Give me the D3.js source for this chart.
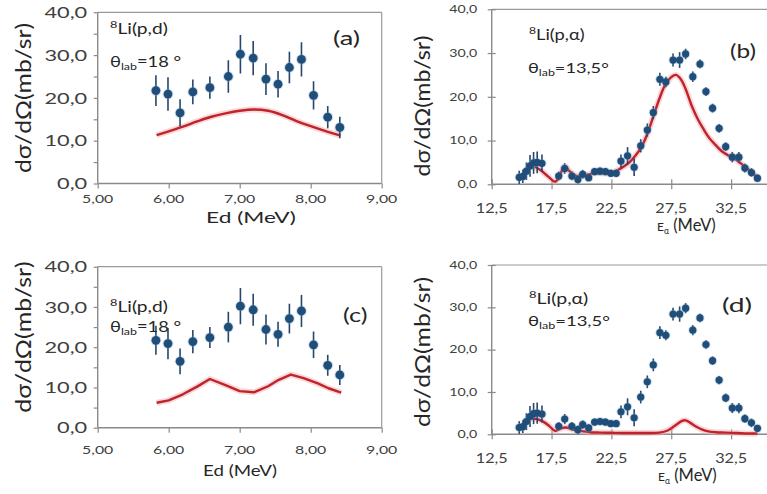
<!DOCTYPE html>
<html><head><meta charset="utf-8">
<script src="https://cdn.jsdelivr.net/npm/d3@7"></script>
<style>body{margin:0;background:#fff}svg{display:block}</style>
</head><body>
<svg id="c" width="767" height="494"></svg>
<script>
// ---- 8Li(p,d) experimental (panels a, c) ----
const edEnergy = [5.82,5.99,6.16,6.34,6.58,6.84,7.01,7.19,7.37,7.54,7.70,7.87,8.04,8.24,8.41];
const edSigma  = [21.7,20.9,16.5,21.4,22.4,25.0,30.2,29.3,24.4,23.2,27.1,29.0,20.6,15.5,13.1];
const edError  = [3.6,3.9,3.2,2.9,2.6,3.8,4.5,4.0,3.7,3.1,3.7,4.0,3.3,2.6,2.5];
// calculation, panel a
const calcAEnergy = [5.83,6.0,6.2,6.4,6.6,6.8,7.0,7.2,7.4,7.6,7.8,8.0,8.2,8.42];
const calcASigma  = [11.3,12.2,13.3,14.5,15.6,16.4,17.0,17.3,17.0,16.0,14.6,13.4,12.3,11.2];
// calculation, panel c
const calcCEnergy = [5.83,6.0,6.2,6.4,6.58,6.8,7.0,7.2,7.4,7.55,7.72,7.9,8.1,8.25,8.43];
const calcCSigma  = [6.2,6.8,8.3,10.2,12.1,10.6,9.1,8.8,10.3,11.9,13.2,12.3,11.0,9.8,8.7];
// ---- 8Li(p,alpha) experimental (panels b, d) ----
const eaEnergy = [14.8,15.1,15.4,15.7,16.0,16.3,16.7,
  18.1,18.6,19.2,19.7,20.1,20.6,21.1,21.55,22.0,22.45,22.9,
  23.3,23.85,24.4,24.95,25.5,26.0,26.55,27.05,27.65,28.2,28.7,29.3,29.9,30.4,30.95,31.5,32.05,32.6,33.15,33.65,34.2,34.7];
const eaSigma = [1.6,1.8,3.0,4.2,4.9,5.0,4.8,
  1.9,3.6,1.9,1.1,2.3,1.5,2.9,3.0,2.9,2.5,2.5,
  5.3,6.5,3.9,8.8,12.4,16.4,24.0,23.4,28.4,28.4,29.8,24.6,27.5,21.2,17.4,12.8,8.6,6.2,6.2,3.7,2.7,1.4];
const eaError = [1.5,1.5,2.0,2.5,2.5,2.5,2.0,
  1.0,1.2,1.0,1.0,1.0,0.8,0.8,0.8,0.8,0.8,0.8,
  1.5,2.0,2.0,1.5,1.5,1.5,1.5,1.2,1.5,1.8,1.2,1.2,1.0,1.0,1.0,1.0,1.0,1.2,1.2,1.0,1.0,0.8];
// calculation, panel b
const calcBEnergy = [16.1,16.6,17.2,17.8,18.2,18.6,19.0,19.5,20.0,20.5,21.0,21.5,22.0,22.5,23.0,23.5,24.0,24.5,25.0,25.5,26.0,26.5,27.0,27.5,27.9,28.3,28.7,29.2,29.7,30.2,30.7,31.2,31.7,32.2,32.7,33.2,33.7,34.2,34.7];
const calcBSigma  = [4.0,3.2,1.8,0.6,2.2,4.2,3.0,2.0,2.0,2.2,2.5,2.6,2.5,2.6,3.2,4.0,5.0,6.5,8.5,11.5,15.5,19.5,22.8,24.5,25.0,24.0,21.8,18.0,15.0,12.6,10.5,9.0,7.6,6.7,6.0,5.0,4.0,2.8,1.6];
// calculation, panel d
const calcDEnergy = [15.3,15.8,16.3,16.8,17.3,17.8,18.2,18.7,19.2,19.7,20.2,20.7,21.5,22.5,23.5,24.5,25.5,26.5,27.2,27.8,28.4,28.7,29.1,29.6,30.1,30.6,31.2,32.0,33.0,34.0,34.7];
const calcDSigma  = [3.0,3.7,3.6,3.0,2.0,0.8,1.3,1.6,1.2,0.9,0.7,0.5,0.4,0.35,0.3,0.3,0.3,0.4,0.9,2.0,3.2,3.3,2.7,1.8,1.1,0.7,0.5,0.4,0.3,0.2,0.2];
// ---- ticks ----
const edTicks = [5,6,7,8,9];
const edTickLabels = ["5,00","6,00","7,00","8,00","9,00"];
const eaTicks = [12.5,17.5,22.5,27.5,32.5];
const eaTickLabels = ["12,5","17,5","22,5","27,5","32,5"];
const sigmaTicks = [0,10,20,30,40];
const sigmaTickLabels = ["0,0","10,0","20,0","30,0","40,0"];
const sigmaMinorTicks = [0,5,10,15,20,25,30,35,40];

const svg = d3.select('#c');
const FONT = 'Lato, "Open Sans", sans-serif';
const AX = '#8a8a8a', TXT = '#404040', BLUE = '#1f4e79', RED = '#c0232b';

function stext(x, y, anchor, sx, size, parts, color) {
  const t = svg.append('text')
    .attr('transform', `translate(${x},${y}) scale(${sx},1)`)
    .attr('text-anchor', anchor).attr('font-family', FONT)
    .attr('font-size', size).attr('fill', color || TXT);
  parts.forEach(p => {
    const s = t.append('tspan').text(p.t);
    if (p.size) s.attr('font-size', p.size);
    if (p.dy) s.attr('dy', p.dy);
  });
  return t;
}

function panel(cfg) {
  const x = d3.scaleLinear().domain(cfg.xdom).range(cfg.xr);
  const y = d3.scaleLinear().domain([0, 40]).range(cfg.yr);
  const g = svg.append('g');
  // frame (top & right)
  g.append('line').attr('x1', cfg.xr[0]).attr('x2', cfg.xr[1]).attr('y1', y(40)).attr('y2', y(40))
    .attr('stroke', '#9a9a9a').attr('stroke-width', 1.2);
  g.append('line').attr('x1', cfg.xr[1]).attr('x2', cfg.xr[1]).attr('y1', y(40)).attr('y2', y(0))
    .attr('stroke', '#9a9a9a').attr('stroke-width', 1.2);
  // y axis
  const ya = g.append('g').attr('transform', `translate(${cfg.xr[0]},0)`)
    .call(d3.axisLeft(y).tickValues(cfg.yTicks).tickSize(cfg.yTickOut).tickFormat(''));
  ya.select('.domain').remove();
  ya.selectAll('.tick line').attr('x2', -cfg.yTickOut).attr('x1', cfg.yTickIn).attr('stroke', AX).attr('stroke-width', 1.2);
  g.append('line').attr('x1', cfg.xr[0]).attr('x2', cfg.xr[0]).attr('y1', y(40)).attr('y2', y(0))
    .attr('stroke', AX).attr('stroke-width', 1.4);
  // x axis
  const xa = g.append('g').attr('transform', `translate(0,${y(0)})`)
    .call(d3.axisBottom(x).tickValues(cfg.xTicks).tickSize(cfg.xTickOut).tickFormat(''));
  xa.select('.domain').remove();
  xa.selectAll('.tick line').attr('y2', cfg.xTickOut).attr('y1', -cfg.xTickIn).attr('stroke', AX).attr('stroke-width', 1.2);
  g.append('line').attr('x1', cfg.xr[0]).attr('x2', cfg.xr[1]).attr('y1', y(0)).attr('y2', y(0))
    .attr('stroke', AX).attr('stroke-width', 1.4);
  // tick labels
  sigmaTicks.forEach((v, i) => stext(cfg.xr[0] - cfg.yLabGap, y(v) + cfg.yLabSize * 0.36, 'end', cfg.yLabSx, cfg.yLabSize, [{t: sigmaTickLabels[i]}]));
  cfg.xTicks.forEach((v, i) => stext(x(v), cfg.xLabY, 'middle', cfg.xLabSx, cfg.xLabSize, [{t: cfg.xLabels[i]}]));
  // calc curve
  const line = d3.line().x(d => x(d[0])).y(d => y(d[1])).curve(cfg.curve);
  const cd = cfg.calcE.map((e, i) => [e, cfg.calcS[i]]);
  g.append('path').datum(cd).attr('d', line).attr('fill', 'none').attr('stroke', '#f2a9ab')
    .attr('stroke-width', 6).attr('stroke-opacity', 0.45).attr('stroke-linejoin', 'round');
  g.append('path').datum(cd).attr('d', line).attr('fill', 'none').attr('stroke', RED)
    .attr('stroke-width', 2.4).attr('stroke-linejoin', 'round');
  // experimental
  const pts = cfg.expE.map((e, i) => ({e, s: cfg.expS[i], err: cfg.expErr[i]}));
  g.selectAll('line.err').data(pts).join('line').attr('class', 'err')
    .attr('x1', d => x(d.e)).attr('x2', d => x(d.e))
    .attr('y1', d => y(d.s - d.err)).attr('y2', d => y(d.s + d.err))
    .attr('stroke', '#27466b').attr('stroke-width', 1.6);
  g.selectAll('circle.halo').data(pts).join('circle').attr('class', 'halo')
    .attr('cx', d => x(d.e)).attr('cy', d => y(d.s)).attr('r', cfg.r + 1)
    .attr('fill', '#7aa0cc').attr('opacity', 0.35);
  g.selectAll('circle.pt').data(pts).join('circle').attr('class', 'pt')
    .attr('cx', d => x(d.e)).attr('cy', d => y(d.s)).attr('r', cfg.r)
    .attr('fill', BLUE);
}

const left = {xdom: [5, 9], xr: [97.7, 381.7], xTicks: edTicks, xLabels: edTickLabels,
  yTicks: sigmaMinorTicks, yTickOut: 4, yTickIn: 0, xTickOut: 5, xTickIn: 0,
  yLabGap: 10.5, yLabSx: 1.36, yLabSize: 16, xLabSx: 1.38, xLabSize: 11.5,
  expE: edEnergy, expS: edSigma, expErr: edError, r: 4.4};
const right = {xdom: [12.5, 37.5], xr: [491.7, 790.95], xTicks: eaTicks, xLabels: eaTickLabels,
  yTicks: sigmaTicks, yTickOut: 4, yTickIn: 4, xTickOut: 5, xTickIn: 5,
  yLabGap: 14.5, yLabSx: 1.35, yLabSize: 10.5, xLabSx: 1.25, xLabSize: 13,
  expE: eaEnergy, expS: eaSigma, expErr: eaError, r: 3.6};

panel(Object.assign({}, left, {yr: [183.5, 12.3], xLabY: 202.5, calcE: calcAEnergy, calcS: calcASigma, curve: d3.curveCatmullRom}));
panel(Object.assign({}, left, {yr: [427.7, 266.7], xLabY: 453.5, calcE: calcCEnergy, calcS: calcCSigma, curve: d3.curveLinear}));
panel(Object.assign({}, right, {yr: [184.3, 9.3], xLabY: 212.5, calcE: calcBEnergy, calcS: calcBSigma, curve: d3.curveCatmullRom}));
panel(Object.assign({}, right, {yr: [434.3, 265], xLabY: 462.5, calcE: calcDEnergy, calcS: calcDSigma, curve: d3.curveCatmullRom}));

// y titles
function ytitle(cx, cy, sl) {
  svg.append('text').attr('transform', `translate(${cx},${cy}) rotate(-90) scale(${sl},1)`)
    .attr('text-anchor', 'middle').attr('font-family', FONT).attr('font-size', 21.5)
    .attr('fill', '#262626').text('dσ/dΩ(mb/sr)');
}
ytitle(31, 98, 1.15);
ytitle(31, 337, 1.16);
ytitle(430, 106, 1.08);
ytitle(430, 352, 1.15);

// x titles
stext(251, 223, 'middle', 1.42, 16, [{t: 'Ed (MeV)'}], '#262626');
stext(240, 476, 'middle', 1.17, 16, [{t: 'Ed (MeV)'}], '#262626');
function eaTitle(x, y) {
  stext(x, y, 'start', 1.0, 16, [{t: 'E', size: 12}, {t: 'α', size: 8.5, dy: 3}, {t: ' (MeV)', size: 16.5, dy: -3}], '#262626');
}
eaTitle(657, 231);
eaTitle(658, 481);

// annotations
function reacLabel(x, y, sx, prod) {
  stext(x, y, 'start', sx, 15, [{t: '8', size: 10, dy: -6}, {t: 'Li(p,' + prod + ')', dy: 6}], '#262626');
}
function thetaLabel(x, y, sx, val, size) {
  stext(x, y, 'start', sx, size, [{t: 'θ'}, {t: 'lab', size: size * 0.68, dy: 3}, {t: '=' + val, dy: -3}], '#262626');
}
reacLabel(110, 33.5, 1.28, 'd');
thetaLabel(110, 66.5, 1.22, '18 °', 15);
stext(333, 45, 'start', 1.4, 19.5, [{t: '(a)'}], '#262626');

reacLabel(110, 311.5, 1.28, 'd');
thetaLabel(110, 331.5, 1.22, '18 °', 15);
stext(343, 322, 'start', 1.3, 19.5, [{t: '(c)'}], '#262626');

reacLabel(529, 40, 1.22, 'α');
thetaLabel(528, 73, 1.3, '13,5°', 14);
stext(730, 58, 'start', 1.25, 19.5, [{t: '(b)'}], '#262626');

reacLabel(529, 304, 1.3, 'α');
thetaLabel(528, 326, 1.32, '13,5°', 14);
stext(722, 312, 'start', 1.45, 19.5, [{t: '(d)'}], '#262626');
</script>
</body></html>
